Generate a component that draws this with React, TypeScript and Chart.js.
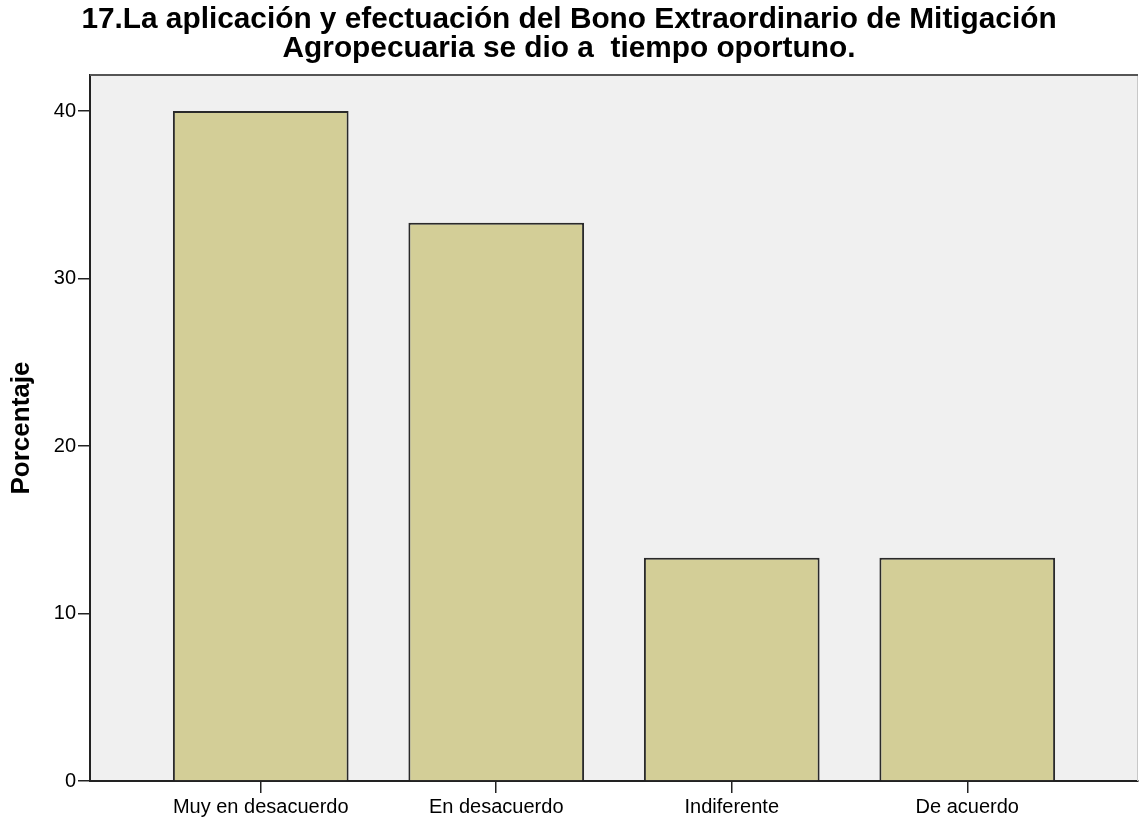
import React, { useEffect, useRef } from "react";
import { Chart, registerables } from "chart.js";

Chart.register(...registerables);

const titleLines = [
  "17.La aplicación y efectuación del Bono Extraordinario de Mitigación",
  "Agropecuaria se dio a  tiempo oportuno.",
];
const categories = ["Muy en desacuerdo", "En desacuerdo", "Indiferente", "De acuerdo"];
const percentages = [40.0, 33.33, 13.33, 13.33];
const yTicks = [0, 10, 20, 30, 40];
const yLabel = "Porcentaje";

const FONT = "'Liberation Sans', Arial, sans-serif";

const plotBg = {
  id: "plotBg",
  beforeDraw(chart: any) {
    const { ctx, chartArea } = chart;
    ctx.save();
    ctx.fillStyle = "#F0F0F0";
    ctx.fillRect(chartArea.left, chartArea.top, chartArea.right - chartArea.left, chartArea.bottom - chartArea.top);
    ctx.restore();
  },
  afterDraw(chart: any) {
    const { ctx, chartArea } = chart;
    ctx.save();
    ctx.strokeStyle = "#C8C8C8";
    ctx.lineWidth = 1;
    ctx.beginPath();
    ctx.moveTo(chartArea.right - 0.5, chartArea.top);
    ctx.lineTo(chartArea.right - 0.5, chartArea.bottom);
    ctx.stroke();
    ctx.strokeStyle = "#555";
    ctx.lineWidth = 2;
    ctx.beginPath();
    ctx.moveTo(chartArea.left, chartArea.top);
    ctx.lineTo(chartArea.right, chartArea.top);
    ctx.stroke();
    ctx.restore();
  },
};

export default function App() {
  const ref = useRef<HTMLCanvasElement>(null);
  useEffect(() => {
    if (!ref.current) return;
    const chart = new Chart(ref.current, {
      type: "bar",
      data: {
        datasets: [
          {
            data: percentages.map((v, i) => ({ x: i, y: v })),
            backgroundColor: "#D3CE97",
            borderColor: "#2A2A2A",
            borderWidth: 2,
            barPercentage: 0.746,
            categoryPercentage: 1,
          },
        ],
      },
      options: {
        animation: false,
        responsive: false,
        devicePixelRatio: 1,
        layout: { padding: { left: 0, right: 1, top: 0, bottom: 0 } },
        plugins: {
          legend: { display: false },
          tooltip: { enabled: false },
          title: {
            display: true,
            text: titleLines,
            color: "#000",
            font: { family: FONT, size: 29.8, weight: "bold", lineHeight: 0.95 },
            padding: { top: 6, bottom: 12.4 },
          },
        },
        scales: {
          x: {
            type: "linear",
            min: -0.725,
            max: 3.725,
            offset: false,
            afterBuildTicks: (scale: any) => {
              scale.ticks = categories.map((_, i) => ({ value: i }));
            },
            afterFit: (scale: any) => {
              scale.height = 40;
            },
            ticks: {
              color: "#000",
              font: { family: FONT, size: 20 },
              padding: 2,
              maxRotation: 0,
              autoSkip: false,
              callback: (v: any) => categories[v] ?? "",
            },
            grid: {
              display: true,
              offset: false,
              drawOnChartArea: false,
              drawTicks: true,
              tickLength: 12,
              color: "#222",
              lineWidth: 1.5,
            },
            border: { display: true, color: "#222", width: 2 },
          },
          y: {
            min: 0,
            max: 42.15,
            afterBuildTicks: (scale: any) => {
              scale.ticks = yTicks.map((v) => ({ value: v }));
            },
            afterFit: (scale: any) => {
              scale.width = 90;
            },
            ticks: {
              color: "#000",
              font: { family: FONT, size: 20 },
              padding: 2,
              includeBounds: false,
            },
            grid: {
              display: true,
              drawOnChartArea: false,
              drawTicks: true,
              tickLength: 12,
              color: "#222",
              lineWidth: 1.5,
            },
            border: { display: true, color: "#222", width: 2 },
            title: {
              display: true,
              text: yLabel,
              color: "#000",
              font: { family: FONT, size: 26, weight: "bold", lineHeight: 1.2 },
              padding: { top: 6, bottom: 0 },
            },
          },
        },
      },
      plugins: [plotBg],
    } as any);
    return () => chart.destroy();
  }, []);
  return (
    <div style={{ position: "fixed", left: 0, top: 0, width: 1139, height: 821, background: "#fff" }}>
      <canvas ref={ref} width={1139} height={821} style={{ width: 1139, height: 821, display: "block" }} />
    </div>
  );
}
